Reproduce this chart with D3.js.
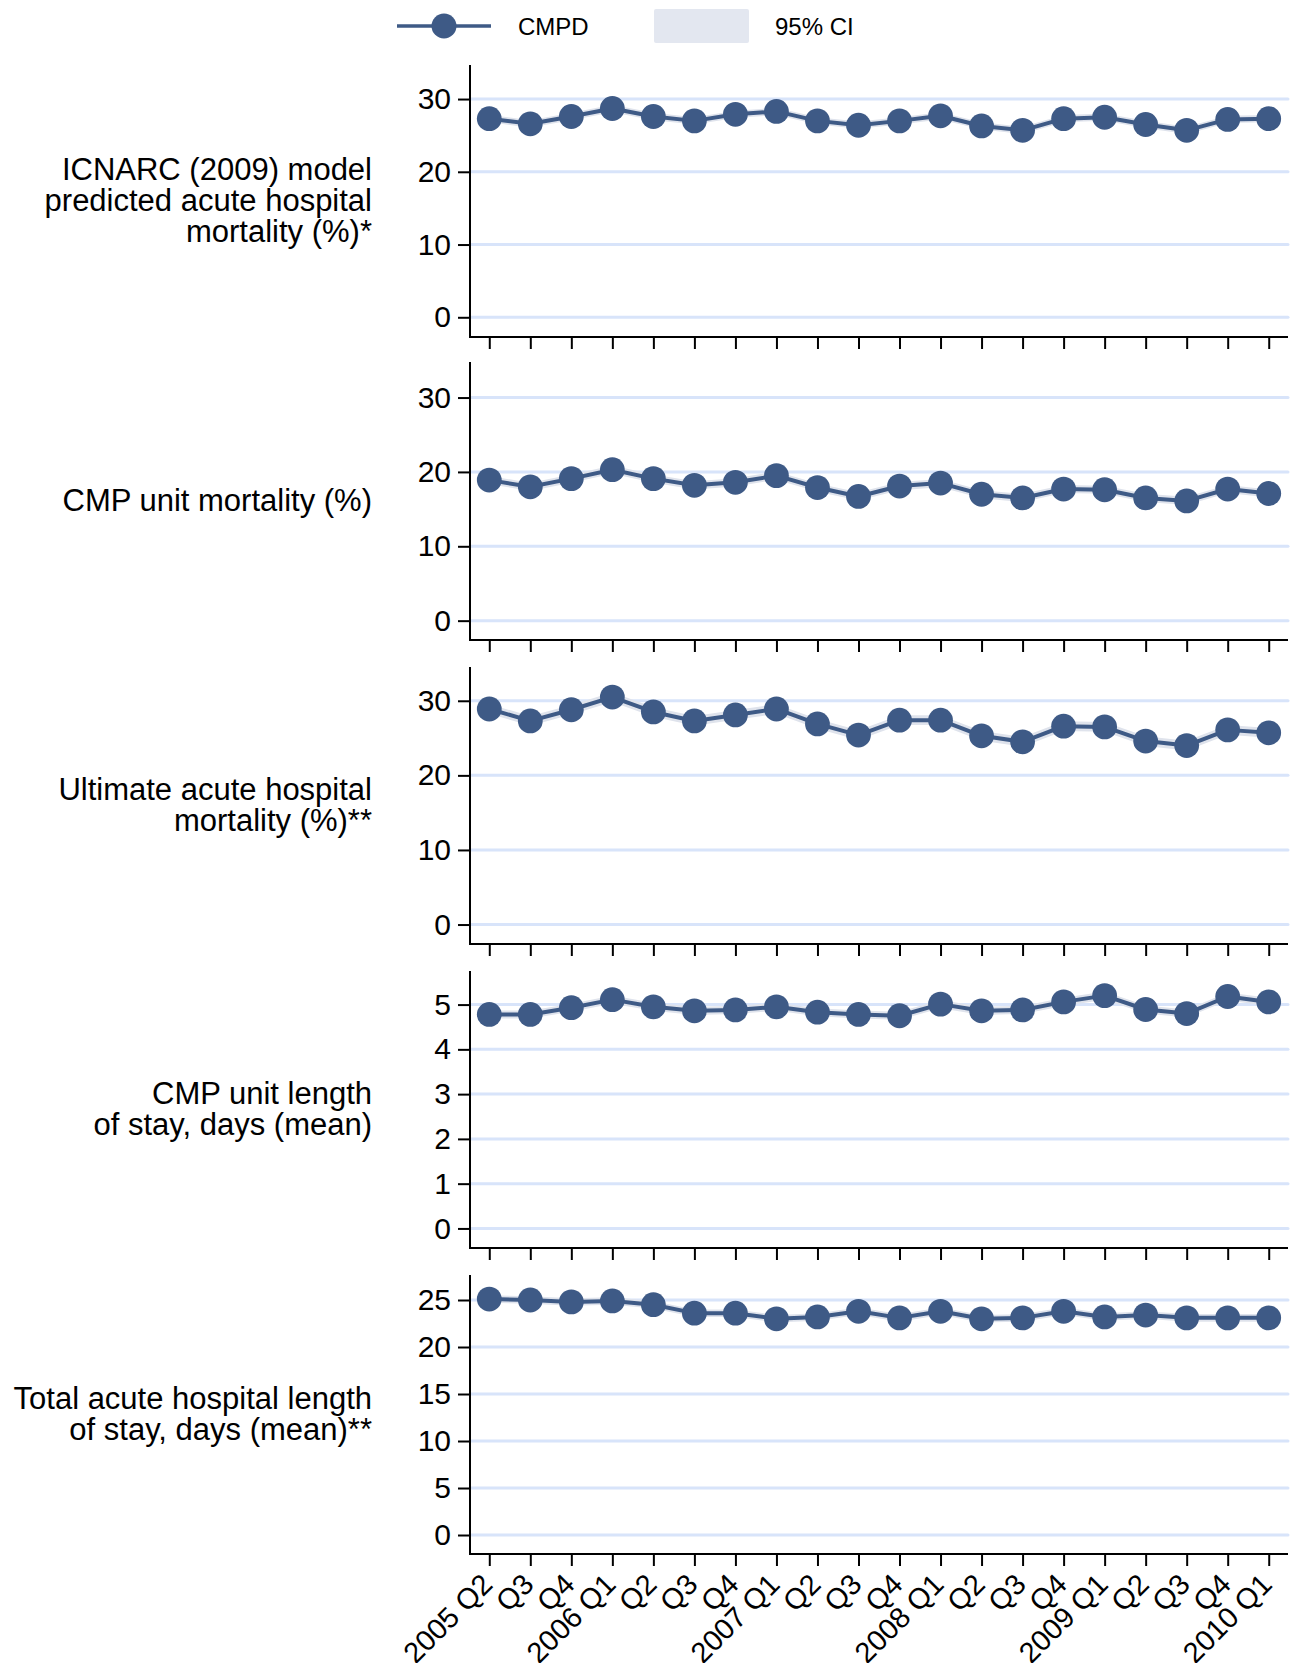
<!DOCTYPE html>
<html>
<head>
<meta charset="utf-8">
<script src="https://cdn.jsdelivr.net/npm/d3@7/dist/d3.min.js"></script>
<style>
  html, body { margin: 0; padding: 0; background: #fff; }
  svg { display: block; }
  text { font-family: "Liberation Sans", Arial, Helvetica, sans-serif; fill: #000; }
</style>
</head>
<body>
<svg id="chart" width="1295" height="1663"></svg>
<script>
// ---------- DATA ----------
const quarters = ["2005 Q2","Q3","Q4","2006 Q1","Q2","Q3","Q4","2007 Q1","Q2","Q3","Q4","2008 Q1","Q2","Q3","Q4","2009 Q1","Q2","Q3","Q4","2010 Q1"];

const panelLabels = [
  ["ICNARC (2009) model", "predicted acute hospital", "mortality (%)*"],
  ["CMP unit mortality (%)"],
  ["Ultimate acute hospital", "mortality (%)**"],
  ["CMP unit length", "of stay, days (mean)"],
  ["Total acute hospital length", "of stay, days (mean)**"]
];

const icnarcPred = [27.3,26.6,27.6,28.7,27.6,27.0,27.9,28.3,27.0,26.4,27.0,27.7,26.3,25.7,27.3,27.5,26.5,25.7,27.2,27.3];
const icnarcPredLow = [26.8,26.1,27.1,28.2,27.1,26.5,27.4,27.8,26.5,25.9,26.5,27.2,25.8,25.2,26.8,27.0,26.0,25.2,26.7,26.8];
const icnarcPredHigh = [27.8,27.1,28.1,29.2,28.1,27.5,28.4,28.8,27.5,26.9,27.5,28.2,26.8,26.2,27.8,28.0,27.0,26.2,27.7,27.8];

const unitMort = [18.9,18.0,19.1,20.3,19.1,18.2,18.6,19.5,17.9,16.7,18.1,18.5,17.0,16.5,17.7,17.6,16.5,16.1,17.7,17.1];
const unitMortLow = [18.35,17.45,18.55,19.75,18.55,17.65,18.05,18.95,17.35,16.15,17.55,17.95,16.45,15.95,17.15,17.05,15.95,15.55,17.15,16.55];
const unitMortHigh = [19.45,18.55,19.65,20.85,19.65,18.75,19.15,20.05,18.45,17.25,18.65,19.05,17.55,17.05,18.25,18.15,17.05,16.65,18.25,17.65];

const hospMort = [28.9,27.3,28.8,30.5,28.5,27.3,28.1,28.9,26.9,25.4,27.4,27.4,25.3,24.5,26.6,26.5,24.6,24.0,26.1,25.7];
const hospMortLow = [28.25,26.65,28.15,29.85,27.85,26.65,27.45,28.25,26.25,24.75,26.75,26.75,24.65,23.85,25.95,25.85,23.95,23.35,25.45,25.05];
const hospMortHigh = [29.55,27.95,29.45,31.15,29.15,27.95,28.75,29.55,27.55,26.05,28.05,28.05,25.95,25.15,27.25,27.15,25.25,24.65,26.75,26.35];

const unitLos = [4.78,4.78,4.93,5.11,4.95,4.86,4.88,4.95,4.83,4.78,4.75,5.01,4.86,4.88,5.06,5.20,4.89,4.80,5.18,5.06];
const unitLosLow = [4.69,4.69,4.84,5.02,4.86,4.77,4.79,4.86,4.74,4.69,4.66,4.92,4.77,4.79,4.97,5.11,4.80,4.71,5.09,4.97];
const unitLosHigh = [4.87,4.87,5.02,5.20,5.04,4.95,4.97,5.04,4.92,4.87,4.84,5.10,4.95,4.97,5.15,5.29,4.98,4.89,5.27,5.15];

const hospLos = [25.1,25.0,24.8,24.9,24.5,23.6,23.6,23.0,23.2,23.8,23.1,23.8,23.0,23.1,23.8,23.2,23.4,23.1,23.1,23.1];
const hospLosLow = [24.7,24.6,24.4,24.5,24.1,23.2,23.2,22.6,22.8,23.4,22.7,23.4,22.6,22.7,23.4,22.8,23.0,22.7,22.7,22.7];
const hospLosHigh = [25.5,25.4,25.2,25.3,24.9,24.0,24.0,23.4,23.6,24.2,23.5,24.2,23.4,23.5,24.2,23.6,23.8,23.5,23.5,23.5];

const ticks30 = [0,10,20,30];
const ticksUnitLos = [0,1,2,3,4,5];
const ticksHospLos = [0,5,10,15,20,25];

const legendLabels = ["CMPD", "95% CI"];

// ---------- LAYOUT / STYLE ----------
const NAVY = "#3e5a86";
const BAND = "#dfe3ec";
const GRID = "#d8e4fa";
const FONT_TICK = 30;
const FONT_XLAB = 29;
const FONT_LABEL = 31;

const plotLeft = 470, plotRight = 1288;

const panels = [
  {v: icnarcPred, lo: icnarcPredLow, hi: icnarcPredHigh, ticks: ticks30, domain: [-2.71, 34.68], top: 65, bottom: 337},
  {v: unitMort, lo: unitMortLow, hi: unitMortHigh, ticks: ticks30, domain: [-2.6, 34.78], top: 362, bottom: 640},
  {v: hospMort, lo: hospMortLow, hi: hospMortHigh, ticks: ticks30, domain: [-2.61, 34.53], top: 667, bottom: 944},
  {v: unitLos, lo: unitLosLow, hi: unitLosHigh, ticks: ticksUnitLos, domain: [-0.437, 5.75], top: 971, bottom: 1248},
  {v: hospLos, lo: hospLosLow, hi: hospLosHigh, ticks: ticksHospLos, domain: [-2.02, 27.66], top: 1275, bottom: 1554}
];

const svg = d3.select("#chart");

const x = d3.scalePoint().domain(d3.range(quarters.length)).range([plotLeft, plotRight]).padding(0.47);

// ---------- LEGEND ----------
const leg = svg.append("g");
leg.append("line").attr("x1", 397).attr("x2", 491).attr("y1", 26).attr("y2", 26)
  .attr("stroke", NAVY).attr("stroke-width", 3.5);
leg.append("circle").attr("cx", 444).attr("cy", 26).attr("r", 12.5).attr("fill", NAVY);
leg.append("text").attr("x", 518).attr("y", 35).attr("font-size", 24).text(legendLabels[0]);
leg.append("rect").attr("x", 654).attr("y", 9).attr("width", 95).attr("height", 34).attr("rx", 2)
  .attr("fill", "#e3e7f0");
leg.append("text").attr("x", 775).attr("y", 35).attr("font-size", 24).text(legendLabels[1]);

// ---------- PANELS ----------
panels.forEach((p, pi) => {
  const y = d3.scaleLinear().domain(p.domain).range([p.bottom, p.top]);
  const g = svg.append("g");

  // gridlines
  g.selectAll("line.grid").data(p.ticks).join("line")
    .attr("class", "grid")
    .attr("x1", plotLeft).attr("x2", plotRight)
    .attr("y1", d => y(d)).attr("y2", d => y(d))
    .attr("stroke", GRID).attr("stroke-width", 3).attr("stroke-linecap", "round");

  const idx = d3.range(quarters.length);

  // CI band
  const area = d3.area().x(i => x(i)).y0(i => y(p.lo[i])).y1(i => y(p.hi[i]));
  g.append("path").datum(idx).attr("d", area).attr("fill", BAND);

  // line
  const line = d3.line().x(i => x(i)).y(i => y(p.v[i]));
  g.append("path").datum(idx).attr("d", line).attr("fill", "none")
    .attr("stroke", NAVY).attr("stroke-width", 4).attr("stroke-linejoin", "round");

  // markers
  g.selectAll("circle.pt").data(idx).join("circle")
    .attr("class", "pt")
    .attr("cx", i => x(i)).attr("cy", i => y(p.v[i])).attr("r", 12.4)
    .attr("fill", NAVY);

  // y axis
  const yAxis = d3.axisLeft(y).tickValues(p.ticks).tickSize(12).tickPadding(7).tickFormat(d3.format("d"));
  const ya = g.append("g").attr("transform", `translate(${plotLeft},0)`).call(yAxis);
  ya.select(".domain").attr("d", `M0,${p.top}V${p.bottom}`).attr("stroke", "#000").attr("stroke-width", 2);
  ya.selectAll(".tick line").attr("stroke", "#000").attr("stroke-width", 2);
  ya.selectAll(".tick text").attr("font-size", FONT_TICK).attr("font-family", "Liberation Sans, Arial, sans-serif").attr("fill", "#000");

  // x axis
  const xAxis = d3.axisBottom(x).tickSize(12).tickFormat("");
  const xa = g.append("g").attr("transform", `translate(0,${p.bottom})`).call(xAxis);
  xa.select(".domain").attr("d", `M${plotLeft - 1},0H${plotRight}`).attr("stroke", "#000").attr("stroke-width", 2);
  xa.selectAll(".tick line").attr("stroke", "#000").attr("stroke-width", 2);

  if (pi === panels.length - 1) {
    xa.selectAll(".tick text").remove();
    g.selectAll("text.xl").data(idx).join("text")
      .attr("class", "xl")
      .attr("transform", i => `translate(${x(i) + 5},${p.bottom + 32}) rotate(-45)`)
      .attr("text-anchor", "end")
      .attr("font-size", FONT_XLAB)
      .text(i => quarters[i]);
  }

  // panel label
  const lines = panelLabels[pi];
  const center = (p.top + p.bottom) / 2 - 1;
  const lh = 30.6;
  g.selectAll("text.lab").data(lines).join("text")
    .attr("class", "lab")
    .attr("x", 372)
    .attr("y", (d, i) => center + (i - (lines.length - 1) / 2) * lh + 11)
    .attr("text-anchor", "end")
    .attr("font-size", FONT_LABEL)
    .text(d => d);
});
</script>
</body>
</html>
